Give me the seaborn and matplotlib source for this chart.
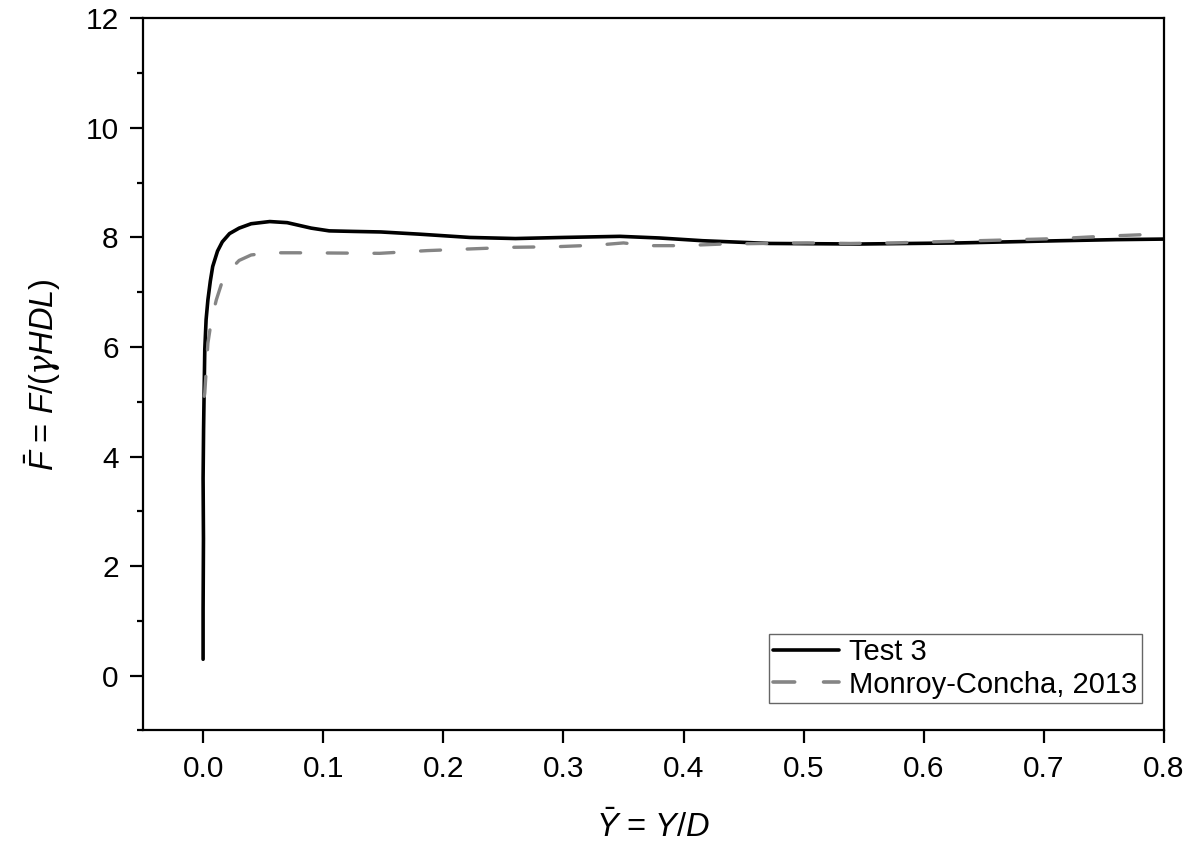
import matplotlib
matplotlib.use("Agg")
import matplotlib.pyplot as plt
import seaborn as sns
import pandas as pd

# Test 3 measured force curve
test3_y = [0.0, 0.0, 0.0003, 0.0, 0.0004, 0.0008, 0.0014, 0.0025, 0.004, 0.006, 0.008,
           0.012, 0.016, 0.022, 0.03, 0.04, 0.0555, 0.07, 0.08, 0.09, 0.105, 0.125,
           0.148, 0.18, 0.222, 0.26, 0.3, 0.347, 0.38, 0.416, 0.472, 0.547, 0.63,
           0.713, 0.76, 0.8]
test3_f = [0.3, 1.2, 2.5, 3.6, 4.5, 5.1, 5.95, 6.5, 6.86, 7.2, 7.47,
           7.75, 7.92, 8.07, 8.17, 8.25, 8.29, 8.27, 8.22, 8.17, 8.12, 8.11,
           8.10, 8.06, 8.0, 7.98, 8.0, 8.02, 7.99, 7.94, 7.89, 7.88, 7.90,
           7.94, 7.96, 7.97]

# Monroy-Concha (2013) reference curve
mc_y = [0.001, 0.0014, 0.004, 0.007, 0.011, 0.016, 0.022, 0.03, 0.04, 0.055, 0.078,
        0.147, 0.187, 0.222, 0.257, 0.293, 0.328, 0.35, 0.37, 0.399, 0.433,
        0.466, 0.503, 0.539, 0.575, 0.608, 0.644, 0.679, 0.713, 0.748, 0.782, 0.8]
mc_f = [5.1, 5.16, 6.07, 6.5, 6.86, 7.2, 7.40, 7.58, 7.68, 7.72, 7.72,
        7.71, 7.76, 7.79, 7.82, 7.83, 7.86, 7.90, 7.85, 7.85, 7.88,
        7.89, 7.90, 7.89, 7.90, 7.92, 7.94, 7.96, 7.98, 8.02, 8.05, 8.06]

x_ticks = [0.0, 0.1, 0.2, 0.3, 0.4, 0.5, 0.6, 0.7, 0.8]
y_ticks = [0, 2, 4, 6, 8, 10, 12]
y_minor = [-1, 1, 3, 5, 7, 9, 11]

sns.set_theme(style="white")
plt.rcParams["font.family"] = ["Liberation Sans", "DejaVu Sans"]
plt.rcParams["text.color"] = "black"
plt.rcParams["axes.labelcolor"] = "black"
plt.rcParams["mathtext.fontset"] = "custom"
plt.rcParams["mathtext.rm"] = "Liberation Sans"
plt.rcParams["mathtext.it"] = "Liberation Sans:italic"
plt.rcParams["mathtext.sf"] = "DejaVu Serif:italic"
plt.rcParams["mathtext.default"] = "it"

fig = plt.figure(figsize=(11.98, 8.48), dpi=100)
ax = fig.add_axes([0.1194, 0.1386, 0.8522, 0.8398])

df_t = pd.DataFrame({"Y": test3_y, "F": test3_f})
df_m = pd.DataFrame({"Y": mc_y, "F": mc_f})

sns.lineplot(data=df_t, x="Y", y="F", sort=False, estimator=None, ax=ax,
             color="black", linewidth=2.6, label="Test 3")
sns.lineplot(data=df_m, x="Y", y="F", sort=False, estimator=None, ax=ax,
             color="#858585", linewidth=2.4, label="Monroy-Concha, 2013",
             dashes=False)
ax.lines[1].set_dashes((6.0, 8))
ax.lines[1].set_dash_capstyle("round")

ax.set_xlim(-0.05, 0.8)
ax.set_ylim(-1, 12)
ax.set_xticks(x_ticks)
ax.set_xticklabels([f"{v:.1f}" for v in x_ticks])
ax.set_yticks(y_ticks)
ax.set_yticks(y_minor, minor=True)

for s in ax.spines.values():
    s.set_color("black")
    s.set_linewidth(1.6)

ax.tick_params(axis="both", which="major", direction="out", length=9.5,
               width=1.6, colors="black", labelsize=21.5, pad=8,
               bottom=True, left=True)
ax.tick_params(axis="y", which="minor", direction="out", length=4.5,
               width=1.6, colors="black", left=True)

ax.set_xlabel(r"$\bar{Y}$ = $Y/D$", fontsize=23.5, labelpad=20, color="black")
ax.set_ylabel(r"$\bar{F}$ = $F/(\mathsf{\gamma} HDL)$", fontsize=23.5,
              labelpad=16, color="black")

leg = ax.legend(loc="lower right", bbox_to_anchor=(0.978, 0.0386),
                borderaxespad=0, fontsize=21, frameon=True, fancybox=False,
                handlelength=2.25, handletextpad=0.35, borderpad=0.15,
                labelspacing=0.15)
leg.get_frame().set_edgecolor("#404040")
leg.get_frame().set_linewidth(1.0)
for t in leg.get_texts():
    t.set_color("black")
for h in leg.get_lines():
    h.set_linewidth(2.6)
leg.get_lines()[1].set_dashes((6.0, 8))
leg.get_lines()[1].set_dash_capstyle("round")

fig.savefig("out.png", dpi=100, facecolor="white")
